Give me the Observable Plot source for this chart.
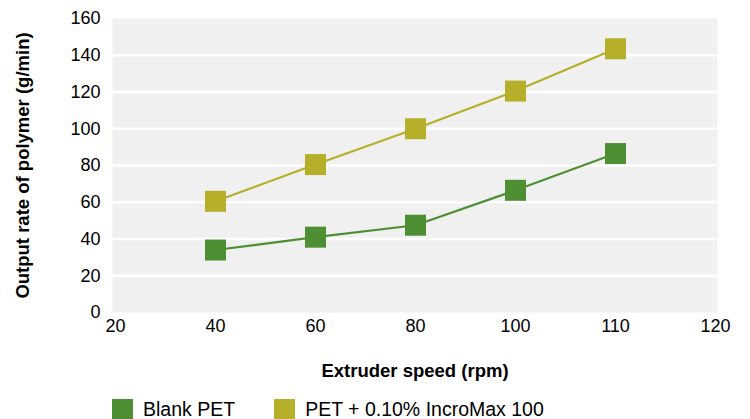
<!DOCTYPE html>
<html>
<head>
<meta charset="utf-8">
<script src="https://cdn.jsdelivr.net/npm/d3@7"></script>
<script src="https://cdn.jsdelivr.net/npm/@observablehq/plot@0.6"></script>
<style>
  html, body { margin: 0; padding: 0; background: #fff; }
  #wrap { position: relative; width: 750px; height: 419px; overflow: hidden; font-family: "Liberation Sans", Arial, Helvetica, sans-serif; }
  g[aria-label="x-axis label"] text, g[aria-label="y-axis label"] text { font-weight: bold; font-size: 18.5px; }
  #legend { position: absolute; left: 112px; top: 398px; display: flex; align-items: center; font-size: 19.5px; color: #000; }
  .item { display: flex; align-items: center; }
  .sw { width: 21px; height: 21px; margin-right: 10px; }
</style>
</head>
<body>
<div id="wrap">
  <div id="chart"></div>
  <div id="legend"></div>
</div>
<script>
const speeds = ["20", "40", "60", "80", "100", "110", "120"];
const dataSpeeds = ["40", "60", "80", "100", "110"];
const blankPET = [34, 41, 47.5, 66.5, 86.5];
const incroMax = [60.5, 80.5, 100, 120.5, 143.5];
const seriesNames = ["Blank PET", "PET + 0.10% IncroMax 100"];
const seriesColors = ["#4f8f33", "#b5af2a"];
const yTicks = [0, 20, 40, 60, 80, 100, 120, 140, 160];
const gridValues = [20, 40, 60, 80, 100, 120, 140];

const seriesValues = [blankPET, incroMax];
const rows = [];
seriesNames.forEach((name, i) => {
  dataSpeeds.forEach((s, j) => rows.push({speed: s, value: seriesValues[i][j], series: name}));
});

const chart = Plot.plot({
  width: 750,
  height: 385,
  marginLeft: 112,
  marginRight: 33,
  marginTop: 18,
  marginBottom: 73,
  style: {fontFamily: '"Liberation Sans", Arial, Helvetica, sans-serif', fontSize: "18px", color: "#000", background: "transparent"},
  x: {type: "point", domain: speeds, padding: 0},
  y: {domain: [0, 160]},
  color: {domain: seriesNames, range: seriesColors},
  marks: [
    Plot.frame({fill: "#f0f0f0", stroke: null}),
    Plot.gridY(gridValues, {stroke: "white", strokeOpacity: 1, strokeWidth: 2.5}),
    Plot.axisX({tickSize: 0, tickPadding: 7, label: "Extruder speed (rpm)", labelAnchor: "center", labelOffset: 64, labelArrow: "none"}),
    Plot.axisY(yTicks, {tickSize: 0, tickPadding: 12, label: "Output rate of polymer (g/min)", labelAnchor: "center", labelOffset: 97, labelArrow: "none"}),
    Plot.line(rows, {x: "speed", y: "value", z: "series", stroke: "series", strokeWidth: 2.2}),
    Plot.dot(rows, {x: "speed", y: "value", fill: "series", symbol: "square", r: 11.85, stroke: null})
  ]
});
document.getElementById("chart").appendChild(chart);

const legend = document.getElementById("legend");
seriesNames.forEach((name, i) => {
  const item = document.createElement("div");
  item.className = "item";
  if (i > 0) item.style.marginLeft = "39px";
  const sw = document.createElement("div");
  sw.className = "sw";
  sw.style.background = seriesColors[i];
  const t = document.createElement("span");
  t.textContent = name;
  item.appendChild(sw);
  item.appendChild(t);
  legend.appendChild(item);
});
</script>
</body>
</html>
